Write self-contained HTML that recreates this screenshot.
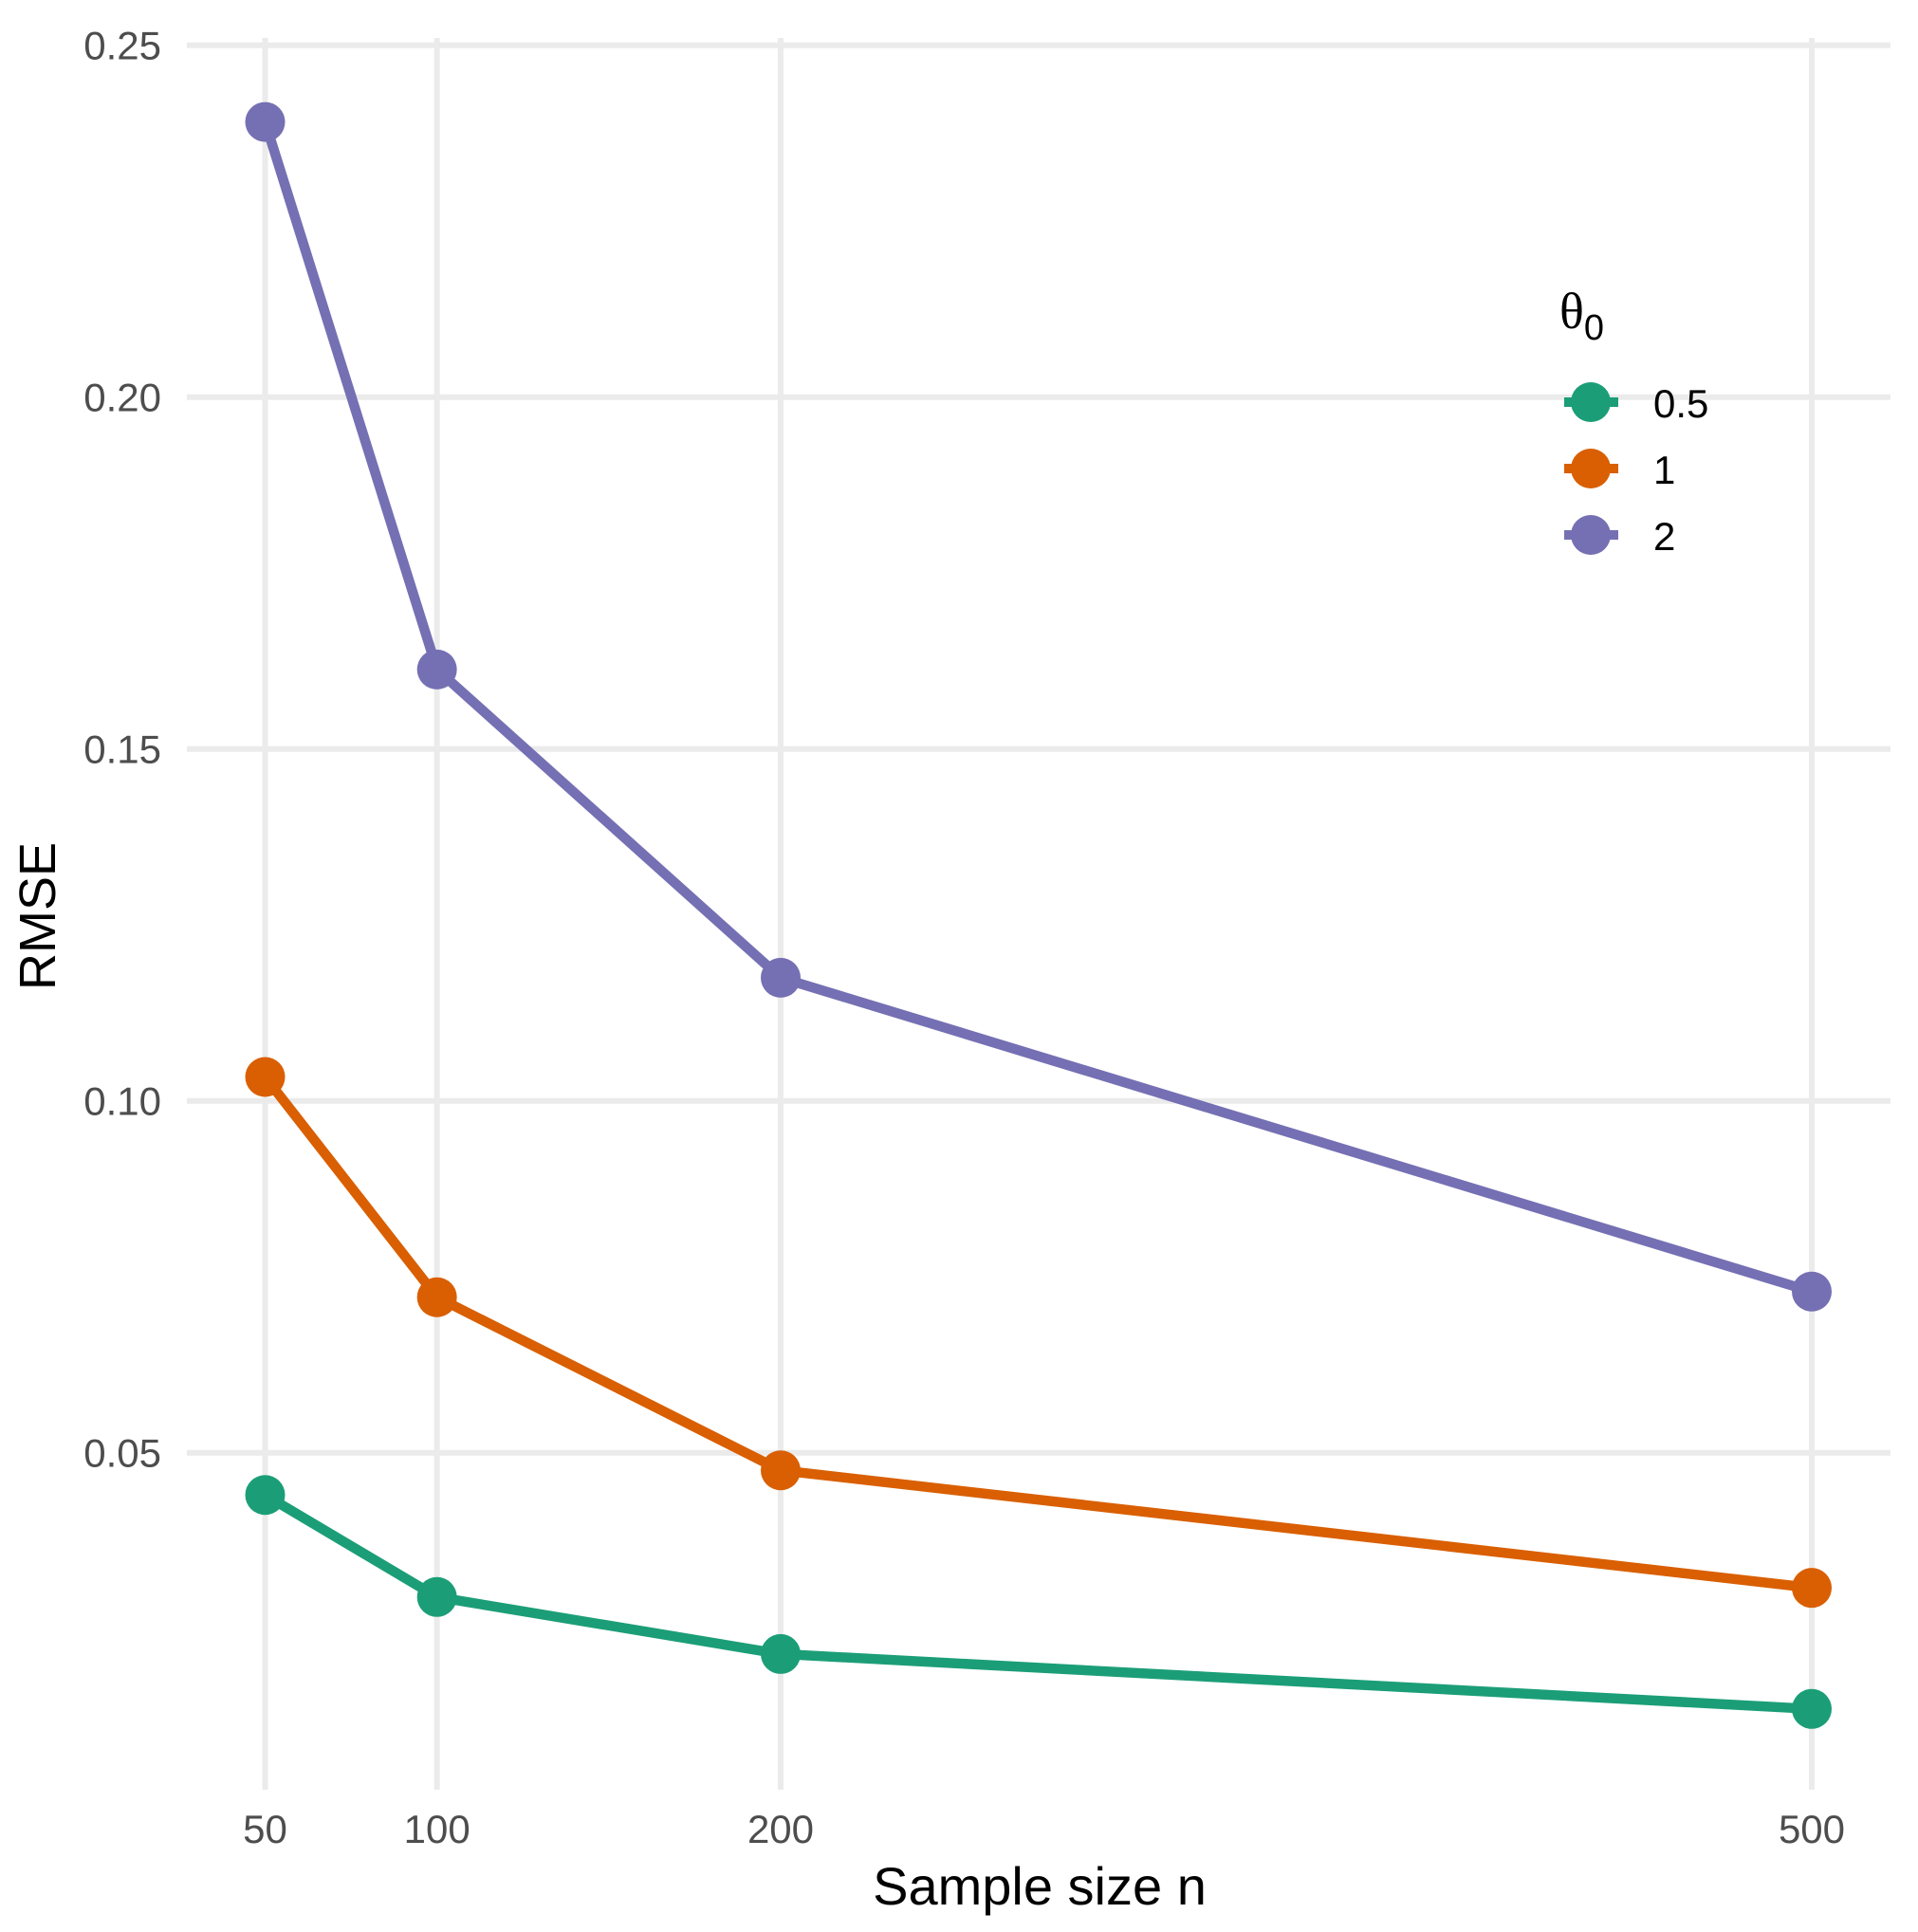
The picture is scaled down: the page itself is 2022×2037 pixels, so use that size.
<!DOCTYPE html>
<html><head><meta charset="utf-8"><style>
html,body{margin:0;padding:0;background:#fff;}
svg{display:block;font-family:"Liberation Sans",Arial,sans-serif;}
</style></head><body>
<svg id="chart" width="2022" height="2037" viewBox="0 0 2022 2037" xmlns="http://www.w3.org/2000/svg">
<g id="grid"></g>
<g id="series"></g>
<g id="axes"></g>
<text x="1096" y="2008" font-size="56" text-anchor="middle" fill="#000">Sample size n</text>
<text transform="translate(58,966) rotate(-90)" font-size="54" text-anchor="middle" fill="#000">RMSE</text>
<g id="legend">
<text x="1644" y="346" font-size="54" font-family="'Liberation Serif',serif" fill="#000">θ<tspan font-size="38" dy="12" font-family="'Liberation Sans',sans-serif">0</tspan></text>
</g>
</svg>
<script>
const categories = [50, 100, 200, 500];
const seriesNames = ["0.5", "1", "2"];
const series05 = [0.0440, 0.0295, 0.0214, 0.0136];
const series1 = [0.1034, 0.0721, 0.0475, 0.0308];
const series2 = [0.2391, 0.1613, 0.1175, 0.0729];
const yTicks = [0.05, 0.10, 0.15, 0.20, 0.25];
const yTickLabels = ["0.05", "0.10", "0.15", "0.20", "0.25"];
const xTickLabels = ["50", "100", "200", "500"];
const colors = ["#1b9e77", "#d95f02", "#7570b3"];

const NS = "http://www.w3.org/2000/svg";
const xScale = v => 279.5 + (v - 50) * (1910 - 279.5) / 450;
const yScale = v => 47.7 + (0.25 - v) * 7420;
const plotL = 197, plotR = 1993, plotT = 40, plotB = 1887;

function mk(tag, attrs, parent) {
  const el = document.createElementNS(NS, tag);
  for (const k in attrs) el.setAttribute(k, attrs[k]);
  parent.appendChild(el);
  return el;
}
const grid = document.getElementById("grid");
const axes = document.getElementById("axes");
const ser = document.getElementById("series");
const legend = document.getElementById("legend");

yTicks.forEach((t, i) => {
  const y = yScale(t);
  const l = mk("line", {x1: plotL, x2: plotR, y1: y, y2: y, stroke: "#ebebeb", "stroke-width": 6}, grid);
  
  
  const tx = mk("text", {x: 170, y: y + 15, "font-size": 42, "text-anchor": "end", fill: "#4d4d4d"}, axes);
  tx.textContent = yTickLabels[i];
  
  
});
categories.forEach((c, i) => {
  const x = xScale(c);
  const l = mk("line", {x1: x, x2: x, y1: plotT, y2: plotB, stroke: "#ebebeb", "stroke-width": 6}, grid);
  
  
  const tx = mk("text", {x: x, y: 1943, "font-size": 42, "text-anchor": "middle", fill: "#4d4d4d"}, axes);
  tx.textContent = xTickLabels[i];
  
  
});

[series05, series1, series2].forEach((vals, s) => {
  const pts = vals.map((v, i) => xScale(categories[i]) + "," + yScale(v)).join(" ");
  const pl = mk("polyline", {points: pts, fill: "none", stroke: colors[s], "stroke-width": 10.5, "stroke-linejoin": "round"}, ser);
  
  
  vals.forEach((v, i) => {
    const c = mk("circle", {cx: xScale(categories[i]), cy: yScale(v), r: 21, fill: colors[s]}, ser);
    
    
  });
});

const legY = [424, 494, 564];
seriesNames.forEach((n, i) => {
  const y = legY[i];
  const k = mk("line", {x1: 1649, x2: 1706, y1: y, y2: y, stroke: colors[i], "stroke-width": 10}, legend);
  
  
  const c = mk("circle", {cx: 1677, cy: y, r: 21, fill: colors[i]}, legend);
  
  
  const t = mk("text", {x: 1743, y: y + 16, "font-size": 42, fill: "#000"}, legend);
  t.textContent = n;
  
  
});
</script>
</body></html>
